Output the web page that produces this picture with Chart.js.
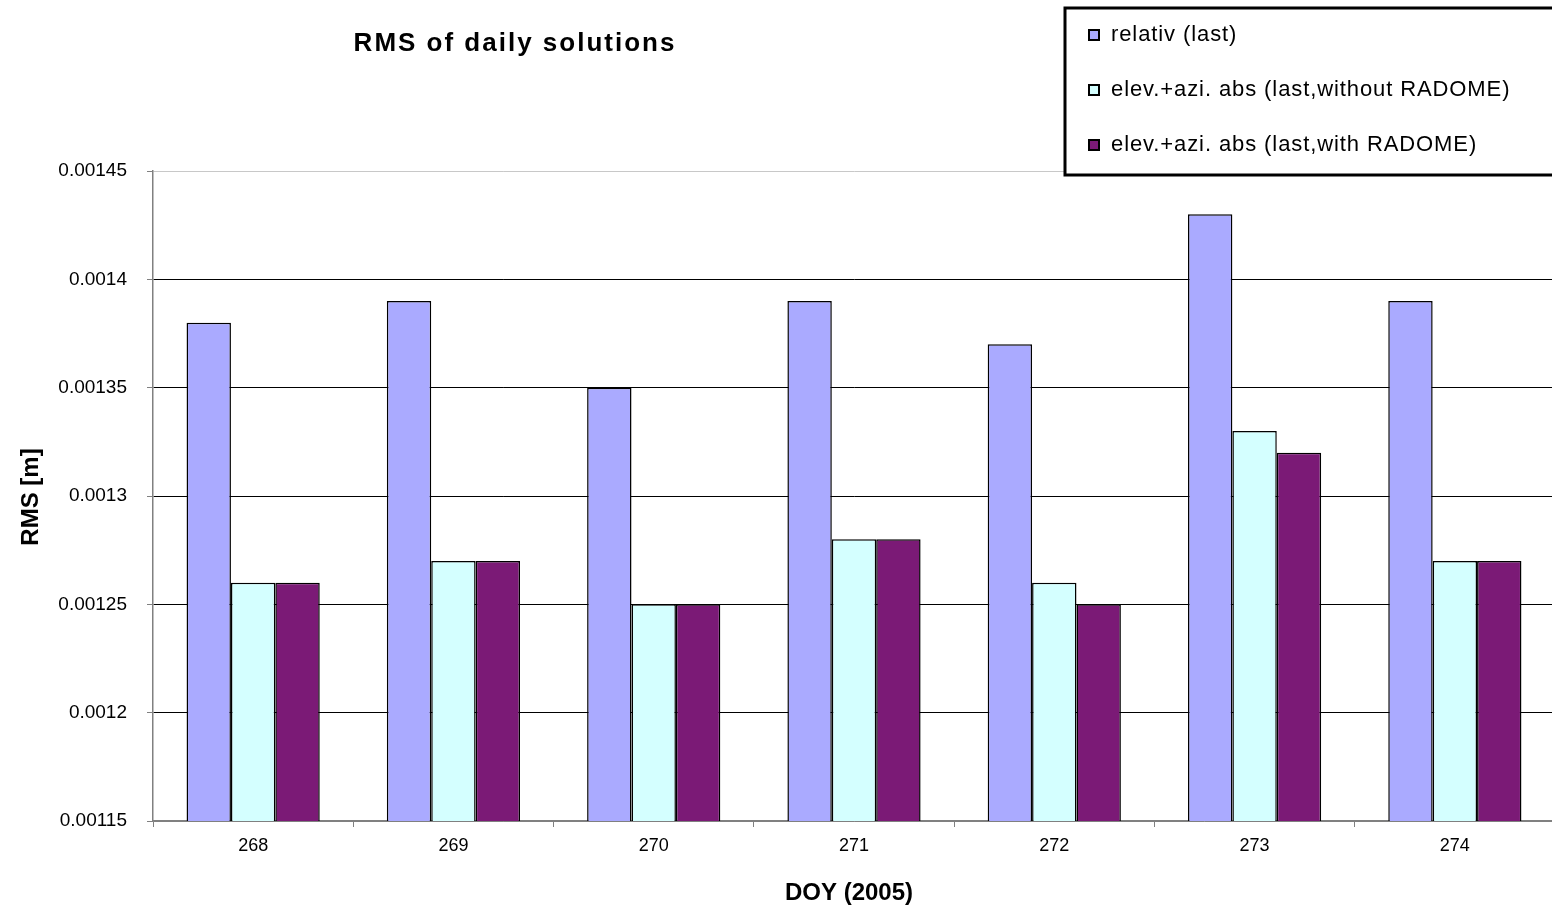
<!DOCTYPE html>
<html>
<head>
<meta charset="utf-8">
<title>RMS of daily solutions</title>
<script src="https://cdn.jsdelivr.net/npm/chart.js@4/dist/chart.umd.min.js"></script>
<style>
  html, body { margin: 0; padding: 0; background: #ffffff; overflow: hidden; }
  #wrap { width: 1556px; height: 909px; }
</style>
</head>
<body>
<div id="wrap"><canvas id="chart" width="1556" height="909"></canvas></div>
<script>
// Day of year (2005)
const days = ['268', '269', '270', '271', '272', '273', '274'];

// RMS of daily solutions [m]
const relativLast = [0.00138, 0.00139, 0.00135, 0.00139, 0.00137, 0.00143, 0.00139];
const absWithoutRadome = [0.00126, 0.00127, 0.00125, 0.00128, 0.00126, 0.00133, 0.00127];
const absWithRadome = [0.00126, 0.00127, 0.00125, 0.00128, 0.00125, 0.00132, 0.00127];

const seriesNames = [
  'relativ (last)',
  'elev.+azi. abs (last,without RADOME)',
  'elev.+azi. abs (last,with RADOME)'
];

const yTicks = [0.00115, 0.0012, 0.00125, 0.0013, 0.00135, 0.0014, 0.00145];

const FONT = "'Liberation Sans', Arial, sans-serif";

// Titles and the boxed legend in the upper right corner
const decorations = {
  id: 'decorations',
  afterDraw(chart) {
    const ctx = chart.ctx;
    ctx.save();
    ctx.fillStyle = '#000';

    // chart title
    ctx.font = 'bold 26px ' + FONT;
    ctx.letterSpacing = '2px';
    ctx.textAlign = 'center';
    ctx.textBaseline = 'middle';
    ctx.fillText('RMS of daily solutions', 515, 44);
    ctx.letterSpacing = '0px';

    // axis titles
    ctx.font = 'bold 24px ' + FONT;
    ctx.fillText('DOY (2005)', 849, 893);
    ctx.save();
    ctx.translate(31, 497);
    ctx.rotate(-Math.PI / 2);
    ctx.fillText('RMS [m]', 0, 0);
    ctx.restore();

    // legend
    const bx = 1065, by = 8, bw = 600, bh = 167;
    ctx.fillStyle = '#fff';
    ctx.fillRect(bx, by, bw, bh);
    ctx.lineWidth = 3;
    ctx.strokeStyle = '#000';
    ctx.strokeRect(bx, by, bw, bh);

    ctx.font = '22px ' + FONT;
    ctx.letterSpacing = '0.9px';
    ctx.textAlign = 'left';
    ctx.textBaseline = 'middle';
    chart.data.datasets.forEach((ds, i) => {
      const cy = 35 + i * 55;
      ctx.fillStyle = ds.backgroundColor;
      ctx.fillRect(1089, cy - 5, 10, 10);
      ctx.lineWidth = 2;
      ctx.strokeStyle = '#000';
      ctx.strokeRect(1089, cy - 5, 10, 10);
      ctx.fillStyle = '#000';
      ctx.fillText(ds.label, 1111, cy);
    });
    ctx.restore();
  }
};

const fmt = v => String(Number(Number(v).toFixed(5)));

new Chart(document.getElementById('chart'), {
  type: 'bar',
  data: {
    labels: days,
    datasets: [
      { label: seriesNames[0], data: relativLast, backgroundColor: '#AAAAFF' },
      { label: seriesNames[1], data: absWithoutRadome, backgroundColor: '#D4FFFF' },
      { label: seriesNames[2], data: absWithRadome, backgroundColor: '#7B1A76' }
    ].map(d => Object.assign(d, {
      borderColor: '#000',
      borderWidth: 1.5,
      barPercentage: 1.0,
      categoryPercentage: 0.665
    }))
  },
  options: {
    responsive: false,
    animation: false,
    devicePixelRatio: 1,
    layout: { padding: { left: 0, top: 171, right: 1, bottom: 0 } },
    plugins: {
      legend: { display: false },
      title: { display: false },
      tooltip: { enabled: false }
    },
    scales: {
      x: {
        grid: {
          display: true,
          drawOnChartArea: false,
          drawTicks: true,
          tickLength: 6,
          color: '#808080',
          offset: true
        },
        border: { color: '#808080', width: 1.5 },
        ticks: {
          color: '#000',
          font: { family: FONT, size: 18 },
          padding: 8,
          maxRotation: 0
        },
        afterFit(scale) { scale.height = 88; }
      },
      y: {
        min: yTicks[0],
        max: yTicks[yTicks.length - 1],
        afterBuildTicks(scale) {
          scale.ticks = yTicks.map(v => ({ value: v }));
        },
        grid: {
          color(ctx) {
            const v = ctx.tick ? Number(ctx.tick.value.toFixed(5)) : 0;
            if (v === yTicks[yTicks.length - 1]) return '#c8c8c8';
            if (v === yTicks[0]) return '#808080';
            return '#000';
          },
          lineWidth: 1,
          tickLength: 6,
          tickColor: '#808080'
        },
        border: { color: '#808080', width: 1.5 },
        ticks: {
          color: '#000',
          font: { family: FONT, size: 19 },
          padding: 20,
          callback: v => fmt(v)
        },
        afterFit(scale) { scale.width = 153; }
      }
    }
  },
  plugins: [decorations]
});
</script>
</body>
</html>
